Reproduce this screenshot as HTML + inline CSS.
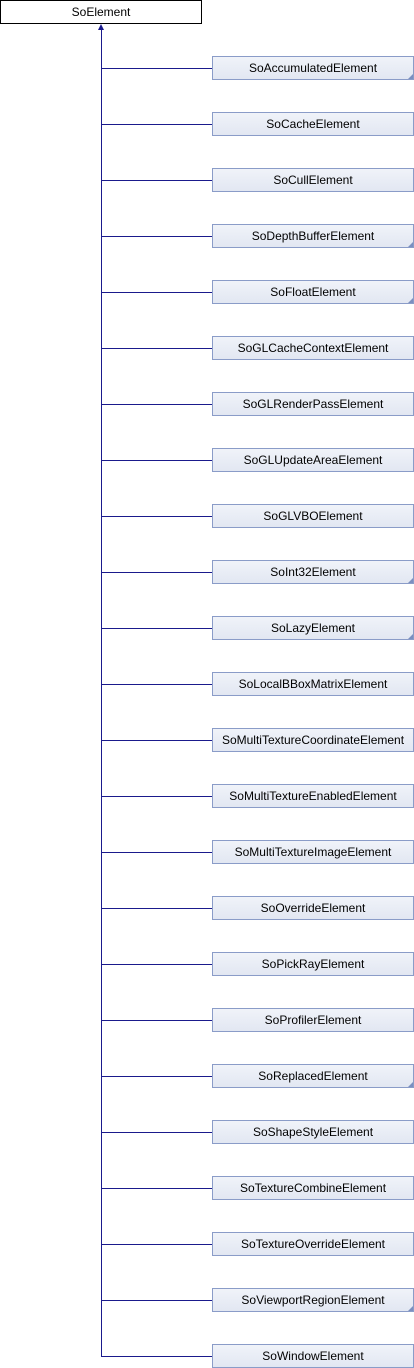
<!DOCTYPE html>
<html><head><style>
body{margin:0;width:414px;height:1368px;position:relative;background:#fff;font-family:"Liberation Sans",Arial,sans-serif;font-size:12px;overflow:hidden}
.b{position:absolute;left:212px;width:200px;height:22px;border:1px solid #8a9cc8;background:linear-gradient(#f0f3f9,#e2e7f2);text-align:center;line-height:22px;color:#000;box-sizing:content-box}
.t::after{content:"";position:absolute;right:0;bottom:0;border-style:solid;border-width:0 0 5px 5px;border-color:transparent transparent #7b8fc0 transparent}
.r{position:absolute;left:0;top:0;width:200px;height:22px;border:1px solid #000;text-align:center;line-height:22px;background:#fff}
.h{position:absolute;left:101px;width:111px;height:1px;background:#1a1a8c}
</style></head><body>
<div class="r">SoElement</div>
<div style="position:absolute;left:101px;top:26px;width:1px;height:1331px;background:#1a1a8c"></div>
<div style="position:absolute;left:98px;top:24px;border-style:solid;border-width:0 3.5px 6px 3.5px;border-color:transparent transparent #1a1a8c transparent"></div>
<script>
var n=["SoAccumulatedElement","SoCacheElement","SoCullElement","SoDepthBufferElement","SoFloatElement","SoGLCacheContextElement","SoGLRenderPassElement","SoGLUpdateAreaElement","SoGLVBOElement","SoInt32Element","SoLazyElement","SoLocalBBoxMatrixElement","SoMultiTextureCoordinateElement","SoMultiTextureEnabledElement","SoMultiTextureImageElement","SoOverrideElement","SoPickRayElement","SoProfilerElement","SoReplacedElement","SoShapeStyleElement","SoTextureCombineElement","SoTextureOverrideElement","SoViewportRegionElement","SoWindowElement"];
var tri={0:1,3:1,4:1,9:1,10:1,18:1,22:1};
for(var i=0;i<n.length;i++){var y=56+56*i;
document.write('<div class="h" style="top:'+(y+12)+'px"></div><div class="b'+(tri[i]?' t':'')+'" style="top:'+y+'px">'+n[i]+'</div>');}
</script>
</body></html>
